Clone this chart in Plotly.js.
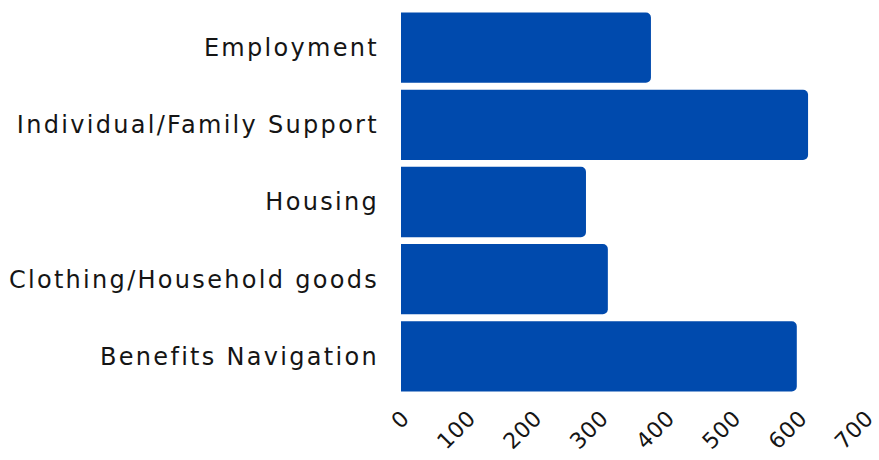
<!DOCTYPE html>
<html>
<head>
<meta charset="utf-8">
<script src="https://cdn.plot.ly/plotly-3.0.1.min.js"></script>
<style>
html,body{margin:0;padding:0;background:#fff;}
#chart{width:879px;height:460px;}
#chart .ytick text{letter-spacing:2.3px;}
#chart .xtick text{letter-spacing:0.5px;}
</style>
</head>
<body>
<div id="chart"></div>
<script>
const categories = ["Employment", "Individual/Family Support", "Housing", "Clothing/Household goods", "Benefits Navigation"];
const values = [377, 614, 279, 312, 597];
const tickValues = [0, 100, 200, 300, 400, 500, 600, 700];

const trace = {
  type: "bar",
  orientation: "h",
  y: categories,
  x: values,
  marker: {color: "#004AAD", cornerradius: 5},
  hoverinfo: "x+y"
};

const layout = {
  width: 879,
  height: 460,
  margin: {l: 401, r: 0, t: 9, b: 65},
  paper_bgcolor: "#ffffff",
  plot_bgcolor: "#ffffff",
  bargap: 0.09,
  showlegend: false,
  font: {family: "DejaVu Sans, sans-serif", color: "#151515", size: 24},
  xaxis: {
    range: [0, 721],
    tickvals: tickValues,
    ticktext: tickValues.map(String),
    tickangle: -45,
    showgrid: false,
    zeroline: false,
    showline: false,
    ticks: "",
    ticklabelshift: 2,
    ticklabelstandoff: 5,
    ticklabeloverflow: "allow",
    tickfont: {size: 22, color: "#151515"},
    automargin: false,
    fixedrange: true
  },
  yaxis: {
    autorange: "reversed",
    showgrid: false,
    zeroline: false,
    showline: false,
    ticks: "",
    ticklen: 0,
    ticklabelstandoff: 21,
    tickfont: {size: 24, color: "#151515"},
    automargin: false,
    fixedrange: true
  }
};

Plotly.newPlot("chart", [trace], layout, {displayModeBar: false, staticPlot: true});
</script>
</body>
</html>
